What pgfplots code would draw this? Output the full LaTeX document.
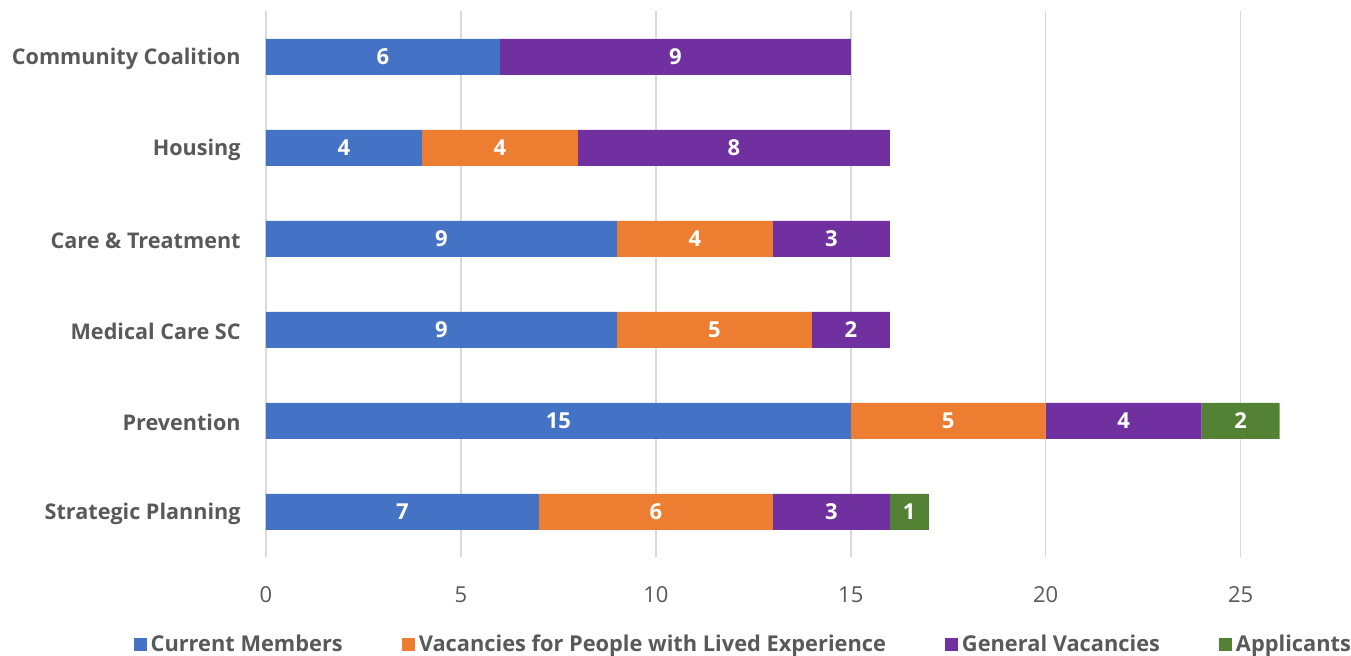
\documentclass[border=0pt]{standalone}
\usepackage{pgfplots}
\usepackage{pgfplotstable}
\pgfplotsset{compat=1.18}
\usepackage{fontspec}
\setmainfont{Open Sans}

\definecolor{cmblue}{HTML}{4472C4}
\definecolor{cmorange}{HTML}{ED7D31}
\definecolor{cmpurple}{HTML}{7030A0}
\definecolor{cmgreen}{HTML}{548235}
\definecolor{txtgray}{HTML}{595959}
\definecolor{gridgray}{HTML}{D9D9D9}

% y: 0 = Strategic Planning ... 5 = Community Coalition
\pgfplotstableread{
y members lived general applicants
0 7  6 3 1
1 15 5 4 2
2 9  5 2 0
3 9  4 3 0
4 4  4 8 0
5 6  0 9 0
}\committees

% segment centres and their values
\pgfplotstableread{
x    y lab
3.5  0 7
10   0 6
14.5 0 3
16.5 0 1
7.5  1 15
17.5 1 5
22   1 4
25   1 2
4.5  2 9
11.5 2 5
15   2 2
4.5  3 9
11   3 4
14.5 3 3
2    4 4
6    4 4
12   4 8
3    5 6
10.5 5 9
}\barlabels

\pgfplotsset{
  frame/.style={
    at={(0,0)}, anchor=south west,
    scale only axis, width=538pt, height=273pt,
    xmin=0, xmax=27.6, ymin=-0.5, ymax=5.5,
    enlargelimits=false, clip=false,
  }
}

\begin{document}
\begin{tikzpicture}
\begin{axis}[
  frame,
  xbar stacked, bar width=18pt,
  axis line style={draw=none},
  major tick length=0pt,
  xtick={0,5,...,25},
  ytick={0,...,5},
  yticklabels={Strategic Planning, Prevention, Medical Care SC, Care \& Treatment, Housing, Community Coalition},
  xmajorgrids, grid style={gridgray, line width=0.75pt},
  /pgf/number format/assume math mode=true,
  xticklabel style={font=\fontsize{11}{13}\selectfont, text=txtgray, anchor=center, inner sep=0pt, yshift=-18.8pt},
  yticklabel style={font=\fontsize{10.8}{13}\selectfont\bfseries, text=txtgray, anchor=east, inner sep=0pt, xshift=-12.5pt, yshift=-1pt},
  legend columns=4,
  legend style={at={(0.4445,-0.1604)}, anchor=center, draw=none, fill=none,
    font=\fontsize{10.9}{13}\selectfont\bfseries, text=txtgray,
    /tikz/every odd column/.append style={column sep=0pt},
    /tikz/every even column/.append style={column sep=27.5pt}},
  legend image code/.code={\draw[#1, draw=none] (0pt,-3.25pt) rectangle (6.5pt,3.25pt);},
]
\addplot[fill=cmblue, draw=none] table[x=members, y=y] {\committees};
\addplot[fill=cmorange, draw=none] table[x=lived, y=y] {\committees};
\addplot[fill=cmpurple, draw=none] table[x=general, y=y] {\committees};
\addplot[fill=cmgreen, draw=none] table[x=applicants, y=y] {\committees};
\legend{Current Members, Vacancies for People with Lived Experience, General Vacancies, Applicants}
\end{axis}

\begin{axis}[frame, hide axis]
\addplot[only marks, mark=none, nodes near coords, point meta=explicit symbolic,
  every node near coord/.append style={anchor=center, text=white,
    font=\fontsize{11}{13}\selectfont\bfseries}]
  table[x=x, y=y, meta=lab] {\barlabels};
\end{axis}

\pgfresetboundingbox
\path[use as bounding box] (-133pt,-49.3pt) rectangle (542.5pt,278.7pt);
\end{tikzpicture}
\end{document}
